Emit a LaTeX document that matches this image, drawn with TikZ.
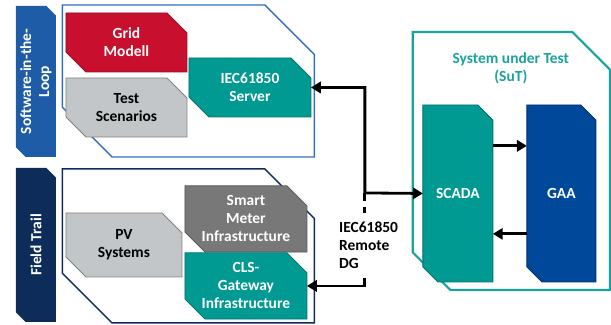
\documentclass[tikz,border=0pt]{standalone}
\usepackage{fontspec}
\setmainfont{Carlito}
\usetikzlibrary{arrows.meta, shapes.misc}

\definecolor{gridred}{HTML}{C8102E}
\definecolor{teal}{HTML}{009A93}
\definecolor{lightgrey}{HTML}{C3C6C8}
\definecolor{darkgrey}{HTML}{787878}
\definecolor{gaablue}{HTML}{00489A}
\definecolor{silblue}{HTML}{1F5CA8}
\definecolor{ftnavy}{HTML}{0D2C5A}
\definecolor{silframe}{HTML}{3070B8}
\definecolor{sutteal}{HTML}{1AA39C}

\begin{document}
\begin{tikzpicture}[
  x=0.025cm, y=-0.025cm,
  font      = \fontsize{11}{12.8}\selectfont\bfseries,
  % chamfered boxes, cut at north east and south west
  chbox/.style  = {chamfered rectangle,
                   chamfered rectangle corners={north east, south west},
                   chamfered rectangle sep=0.25cm, inner sep=0pt, outer sep=0pt,
                   align=center, line width=0.6pt},
  bar/.style    = {chbox, chamfered rectangle sep=0.12cm, inner sep=0.2cm,
                   minimum width=1cm},
  frame/.style  = {chbox, chamfered rectangle sep=0.62cm, inner sep=1cm,
                   line width=1pt},
  redbox/.style   = {chbox, fill=gridred, draw=gridred!75!black, text=white},
  tealbox/.style  = {chbox, fill=teal, draw=teal!75!black, text=white},
  greybox/.style  = {chbox, fill=lightgrey, draw=lightgrey!65!black, text=black},
  dgreybox/.style = {chbox, fill=darkgrey, draw=darkgrey!70!black, text=white},
  bluebox/.style  = {chbox, fill=gaablue, draw=gaablue!70!black, text=white},
  arr/.style    = {line width=2pt, -{Triangle[length=7pt, width=8pt]}},
  dline/.style  = {line width=2pt, dash pattern=on 6pt off 4pt},
]

% ── Frames ────────────────────────────────────────────────────────────────
\node[frame, draw=silframe, minimum width=6.3cm, minimum height=3.8cm]
      (silframe) at (188.5, 81) {};
\node[frame, draw=ftnavy, minimum width=6.3cm, minimum height=3.85cm]
      (ftframe) at (188.5, 246) {};
\node[frame, draw=sutteal, line width=1.5pt, chamfered rectangle sep=0.47cm,
      minimum width=4.93cm, minimum height=6.45cm]
      (sutframe) at (511.5, 161) {};

% ── Side bars ─────────────────────────────────────────────────────────────
\node[bar, fill=silblue, minimum height=3.775cm] (silbar) at (36, 81.5) {};
\node[rotate=90, text=white, align=center] at (silbar)
      {Software-in-the-\\Loop};
\node[bar, fill=ftnavy, minimum height=3.85cm] (ftbar) at (36, 245) {};
\node[rotate=90, text=white] at (ftbar) {Field Trail};

% ── Software-in-the-Loop ──────────────────────────────────────────────────
\node[redbox, minimum width=3.025cm, minimum height=1.475cm]
      (grid) at (126.5, 42.5) {Grid\\Modell};
\node[greybox, minimum width=3.025cm, minimum height=1.475cm]
      (test) at (126.5, 107.5) {Test\\Scenarios};
\node[tealbox, minimum width=3.05cm, minimum height=1.475cm]
      (server) at (250, 87.5) {IEC61850\\Server};

% ── Field Trail ───────────────────────────────────────────────────────────
\node[greybox, minimum width=2.9cm, minimum height=1.6cm]
      (pv) at (124, 245) {PV\\Systems};
\node[dgreybox, minimum width=3.05cm, minimum height=1.6cm]
      (smart) at (246, 219) {Smart\\Meter\\Infrastructure};
\node[tealbox, minimum width=3.05cm, minimum height=1.55cm]
      (cls) at (246, 286) {CLS-\\Gateway\\Infrastructure};

% ── System under Test ─────────────────────────────────────────────────────
\node[text=sutteal, align=center] (suttitle) at (511, 68)
      {System under Test\\(SuT)};
\node[tealbox, minimum width=1.75cm, minimum height=4.425cm]
      (scada) at (458, 193.5) {SCADA};
\node[bluebox, minimum width=1.725cm, minimum height=4.425cm]
      (gaa) at (561.5, 193.5) {GAA};

% ── Connections ───────────────────────────────────────────────────────────
\coordinate (jn) at (365, 193);
\node[align=left, anchor=north west, inner sep=0pt, minimum height=1.6cm]
      (dg) at (339, 213) {IEC61850\\Remote\\DG};

\draw[arr, {Triangle[length=7pt, width=8pt]}-{Triangle[length=7pt, width=8pt]}]
      (server.east) -| (jn) -- (scada.west);
\draw[dline] (jn) -- (jn |- dg.north);
\draw[dline] (jn |- dg.south) |- (cls.east);
\draw[arr] (jn |- cls.east) -- (cls.east);
\draw[arr] ([yshift=1.19cm]scada.east) -- ([yshift=1.19cm]gaa.west);
\draw[arr] ([yshift=-1.01cm]gaa.west) -- ([yshift=-1.01cm]scada.east);

\useasboundingbox (0, 0) rectangle (611, 325);

\end{tikzpicture}
\end{document}
